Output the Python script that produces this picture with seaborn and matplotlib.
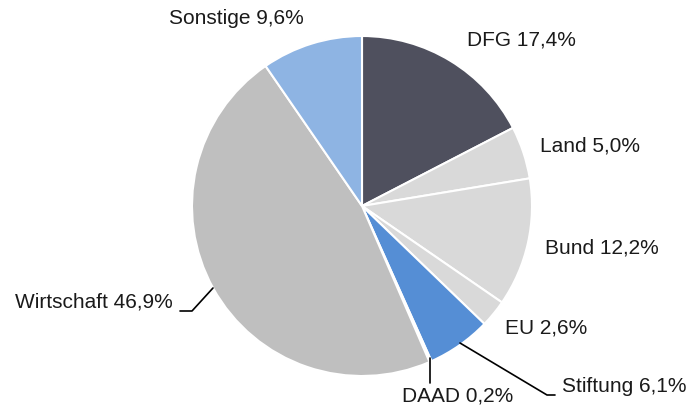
import matplotlib
matplotlib.use('Agg')
import matplotlib.pyplot as plt
import seaborn as sns
import numpy as np

# data
labels = ['DFG', 'Land', 'Bund', 'EU', 'Stiftung', 'DAAD', 'Wirtschaft', 'Sonstige']
shares = [17.4, 5.0, 12.2, 2.6, 6.1, 0.2, 46.9, 9.6]
colors = ['#4f505e', '#d9d9d9', '#d9d9d9', '#d9d9d9', '#558ed5', '#f2f2f2', '#bfbfbf', '#8eb4e3']

# label positions in pixel coordinates (x, y from top), alignment
label_pos = [(521, 40, 'center'), (590, 146, 'center'), (602, 248, 'center'),
             (546, 328, 'center'), (562, 386, 'left'), (458, 396, 'center'),
             (173, 302, 'right'), (236, 18, 'center')]

sns.set_theme(style='white')
plt.rcParams['font.family'] = ['Liberation Sans', 'DejaVu Sans']

W, H = 690, 407
fig = plt.figure(figsize=(6.9, 4.07), dpi=100)
ax = fig.add_axes([0, 0, 1, 1])

cx, cy, r = 362, H - 206, 170
wedges, _ = ax.pie(shares, colors=colors, startangle=90, counterclock=False,
                   center=(cx, cy), radius=r, frame=True,
                   wedgeprops=dict(edgecolor='white', linewidth=1.5))
ax.set_xlim(0, W)
ax.set_ylim(0, H)
ax.axis('off')

for lab, val, (x, y, ha) in zip(labels, shares, label_pos):
    txt = f'{lab} {val:.1f}%'.replace('.', ',')
    ax.text(x, H - y, txt, ha=ha, va='center', fontsize=15, color='#1a1a1a')

# leader lines
def pt(x, y):
    return x, H - y

leaders = [
    [(460, 343), (547, 395), (555, 395)],   # Stiftung
    [(430, 358), (430, 383)],               # DAAD
    [(180, 311), (192, 311), (213, 288)],   # Wirtschaft
]
for seg in leaders:
    xs, ys = zip(*[pt(*p) for p in seg])
    ax.plot(xs, ys, color='black', linewidth=1.2)

fig.savefig('out.png', dpi=100)
